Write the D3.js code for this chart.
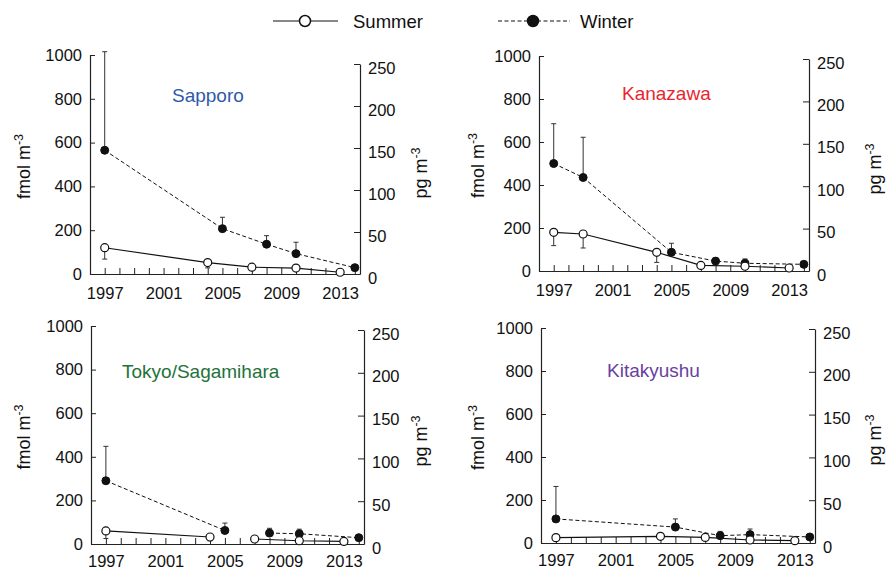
<!DOCTYPE html>
<html>
<head>
<meta charset="utf-8">
<script src="https://cdn.jsdelivr.net/npm/d3@7"></script>
<style>
  html, body { margin: 0; padding: 0; background: #fff; }
  svg { display: block; font-family: "Liberation Sans", Arial, Helvetica, sans-serif; }
</style>
</head>
<body>
<svg id="chart" width="891" height="571"></svg>
<script>
// ---------------- DATA ----------------
const stations = ["Sapporo", "Kanazawa", "Tokyo/Sagamihara", "Kitakyushu"];
const stationColors = ["#2f5aaa", "#ea2530", "#23723a", "#6a3f9f"];

const yearTicks = [1997,1998,1999,2000,2001,2002,2003,2004,2005,2006,2007,2008,2009,2010,2011,2012,2013,2014];
const yearLabels = [1997, 2001, 2005, 2009, 2013];
const leftTicks = [0, 200, 400, 600, 800, 1000];
const rightTicks = [0, 50, 100, 150, 200, 250];

// Sapporo
const sapporoSummerYears = [1997, 2004, 2007, 2010, 2013];
const sapporoSummer      = [120, 52, 31, 27, 8];
const sapporoSummerLow   = [68, 28, 18, 16, 5];
const sapporoSummerSeg   = [0, 0, 0, 0, 0];
const sapporoWinterYears = [1997, 2005, 2008, 2010, 2014];
const sapporoWinter      = [565, 207, 136, 93, 29];
const sapporoWinterHigh  = [1015, 259, 175, 145, 33];
const sapporoWinterSeg   = [0, 0, 0, 0, 0];

// Kanazawa
const kanazawaSummerYears = [1997, 1999, 2004, 2007, 2010, 2013];
const kanazawaSummer      = [180, 172, 87, 26, 22, 14];
const kanazawaSummerLow   = [118, 107, 40, 12, 10, 8];
const kanazawaSummerSeg   = [0, 0, 0, 0, 0, 0];
const kanazawaWinterYears = [1997, 1999, 2005, 2008, 2010, 2014];
const kanazawaWinter      = [500, 435, 87, 46, 36, 31];
const kanazawaWinterHigh  = [685, 622, 129, 60, 56, 45];
const kanazawaWinterSeg   = [0, 0, 0, 0, 0, 0];

// Tokyo / Sagamihara (station change: two separate segments)
const tokyoSummerYears = [1997, 2004, 2007, 2010, 2013];
const tokyoSummer      = [60, 32, 23, 15, 12];
const tokyoSummerLow   = [25, 15, 12, 8, 8];
const tokyoSummerSeg   = [0, 0, 1, 1, 1];
const tokyoWinterYears = [1997, 2005, 2008, 2010, 2014];
const tokyoWinter      = [290, 62, 50, 47, 29];
const tokyoWinterHigh  = [448, 96, 72, 68, 33];
const tokyoWinterSeg   = [0, 0, 1, 1, 1];

// Kitakyushu
const kitaSummerYears = [1997, 2004, 2007, 2010, 2013];
const kitaSummer      = [25, 31, 26, 14, 11];
const kitaSummerLow   = [15, 18, 15, 8, 6];
const kitaSummerSeg   = [0, 0, 0, 0, 0];
const kitaWinterYears = [1997, 2005, 2008, 2010, 2014];
const kitaWinter      = [112, 74, 34, 39, 28];
const kitaWinterHigh  = [263, 112, 54, 65, 32];
const kitaWinterSeg   = [0, 0, 0, 0, 0];

const seriesNames = ["Summer", "Winter"];

// ---------------- LAYOUT ----------------
const layout = [
  { xl: 90,  xr: 360, yb: 274, yt: 55,  yrt: 64,  lt: 30,  rt: 427, lx: 172, ly: 102, pad: 13 },
  { xl: 539, xr: 809, yb: 271, yt: 56,  yrt: 59,  lt: 484, rt: 881, lx: 622, ly: 100, pad: 13 },
  { xl: 91,  xr: 364, yb: 544, yt: 326, yrt: 330, lt: 30,  rt: 427, lx: 122, ly: 378, pad: 11 },
  { xl: 541, xr: 815, yb: 543, yt: 328, yrt: 329, lt: 484, rt: 881, lx: 607, ly: 377, pad: 11 }
];

const panelData = [
  { sy: sapporoSummerYears, s: sapporoSummer, sl: sapporoSummerLow, ss: sapporoSummerSeg,
    wy: sapporoWinterYears, w: sapporoWinter, wh: sapporoWinterHigh, ws: sapporoWinterSeg },
  { sy: kanazawaSummerYears, s: kanazawaSummer, sl: kanazawaSummerLow, ss: kanazawaSummerSeg,
    wy: kanazawaWinterYears, w: kanazawaWinter, wh: kanazawaWinterHigh, ws: kanazawaWinterSeg },
  { sy: tokyoSummerYears, s: tokyoSummer, sl: tokyoSummerLow, ss: tokyoSummerSeg,
    wy: tokyoWinterYears, w: tokyoWinter, wh: tokyoWinterHigh, ws: tokyoWinterSeg },
  { sy: kitaSummerYears, s: kitaSummer, sl: kitaSummerLow, ss: kitaSummerSeg,
    wy: kitaWinterYears, w: kitaWinter, wh: kitaWinterHigh, ws: kitaWinterSeg }
];

const svg = d3.select("#chart");
const TICK_FONT = 16.5;
const fmtInt = d3.format("d");

function addUnitTitle(g, x, y, base) {
  const t = g.append("text")
    .attr("transform", `translate(${x},${y}) rotate(-90)`)
    .attr("text-anchor", "middle")
    .attr("font-size", 18)
    .attr("fill", "#111");
  t.append("tspan").text(base);
  t.append("tspan").attr("font-size", 12.5).attr("dy", -7).text("-3");
}

function makeSeries(years, vals, bars, segs) {
  return years.map((yr, i) => ({ year: yr, v: vals[i], bar: bars[i], seg: segs[i] }));
}

stations.forEach((name, pi) => {
  const L = layout[pi];
  const D = panelData[pi];
  const g = svg.append("g");

  const x = d3.scaleLinear().domain([1996, 2014.35]).range([L.xl, L.xr]);
  const y = d3.scaleLinear().domain([0, 1000]).range([L.yb, L.yt]);
  const yr = d3.scaleLinear().domain([0, 250]).range([L.yb, L.yrt]);

  // Left axis
  const axL = g.append("g").attr("transform", `translate(${L.xl},0)`)
    .call(d3.axisLeft(y).tickValues(leftTicks).tickFormat(fmtInt)
      .tickSizeInner(-5).tickSizeOuter(0).tickPadding(8));
  // Right axis
  const axR = g.append("g").attr("transform", `translate(${L.xr},0)`)
    .call(d3.axisRight(yr).tickValues(rightTicks).tickFormat(fmtInt)
      .tickSizeInner(-6).tickSizeOuter(0).tickPadding(8));
  axR.selectAll(".tick text").attr("dy", "0.55em");
  // Bottom axis
  const axB = g.append("g").attr("transform", `translate(0,${L.yb})`)
    .call(d3.axisBottom(x).tickValues(yearTicks).tickSizeInner(-6).tickSizeOuter(0).tickPadding(L.pad)
      .tickFormat(d => yearLabels.includes(d) ? String(d) : ""));

  [axL, axR, axB].forEach(a => {
    a.selectAll("path.domain").attr("stroke", "#222").attr("stroke-width", 1.2);
    a.selectAll(".tick line").attr("stroke", "#222").attr("stroke-width", 1);
    a.selectAll(".tick text").attr("font-size", TICK_FONT).attr("fill", "#111")
      .attr("font-family", "Liberation Sans, Arial, sans-serif");
  });

  // Axis titles
  addUnitTitle(g, L.lt, (L.yb + L.yt) / 2 + 2, "fmol m");
  addUnitTitle(g, L.rt, (L.yb + L.yrt) / 2 + 4, "pg m");

  // Station label
  g.append("text").attr("x", L.lx).attr("y", L.ly)
    .attr("font-size", 19).attr("fill", stationColors[pi]).text(name);

  const summer = makeSeries(D.sy, D.s, D.sl, D.ss);
  const winter = makeSeries(D.wy, D.w, D.wh, D.ws);

  const line = d3.line().x(d => x(d.year)).y(d => y(d.v));

  // Error bars
  function errBars(data) {
    const eb = g.append("g").attr("stroke", "#333").attr("stroke-width", 1);
    data.forEach(d => {
      eb.append("line").attr("x1", x(d.year)).attr("x2", x(d.year))
        .attr("y1", y(d.v)).attr("y2", y(d.bar));
      eb.append("line").attr("x1", x(d.year) - 2.5).attr("x2", x(d.year) + 2.5)
        .attr("y1", y(d.bar)).attr("y2", y(d.bar));
    });
  }
  errBars(winter);
  errBars(summer);

  // Lines (grouped by segment)
  d3.groups(winter, d => d.seg).forEach(([, seg]) => {
    g.append("path").attr("d", line(seg)).attr("fill", "none")
      .attr("stroke", "#111").attr("stroke-width", 1).attr("stroke-dasharray", "4,2.5");
  });
  d3.groups(summer, d => d.seg).forEach(([, seg]) => {
    g.append("path").attr("d", line(seg)).attr("fill", "none")
      .attr("stroke", "#111").attr("stroke-width", 1.2);
  });

  // Markers
  g.selectAll("circle.w").data(winter).join("circle").attr("class", "w")
    .attr("cx", d => x(d.year)).attr("cy", d => y(d.v)).attr("r", 4)
    .attr("fill", "#111").attr("stroke", "#111");
  g.selectAll("circle.s").data(summer).join("circle").attr("class", "s")
    .attr("cx", d => x(d.year)).attr("cy", d => y(d.v)).attr("r", 4)
    .attr("fill", "#fff").attr("stroke", "#111").attr("stroke-width", 1.2);
});

// ---------------- LEGEND ----------------
const legend = svg.append("g");
const legendItems = [
  { name: seriesNames[0], x1: 273, x2: 338, cx: 305, tx: 353, dash: null, fill: "#fff" },
  { name: seriesNames[1], x1: 498, x2: 570, cx: 533, tx: 580, dash: "4,2.5", fill: "#111" }
];
legendItems.forEach(it => {
  legend.append("line").attr("x1", it.x1).attr("x2", it.x2).attr("y1", 21).attr("y2", 21)
    .attr("stroke", "#111").attr("stroke-width", it.dash ? 1 : 1.2)
    .attr("stroke-dasharray", it.dash);
  legend.append("circle").attr("cx", it.cx).attr("cy", 21).attr("r", 5.5)
    .attr("fill", it.fill).attr("stroke", "#111").attr("stroke-width", 1.5);
  legend.append("text").attr("x", it.tx).attr("y", 27.5).attr("font-size", 18.5)
    .attr("fill", "#111").text(it.name);
});
</script>
</body>
</html>
